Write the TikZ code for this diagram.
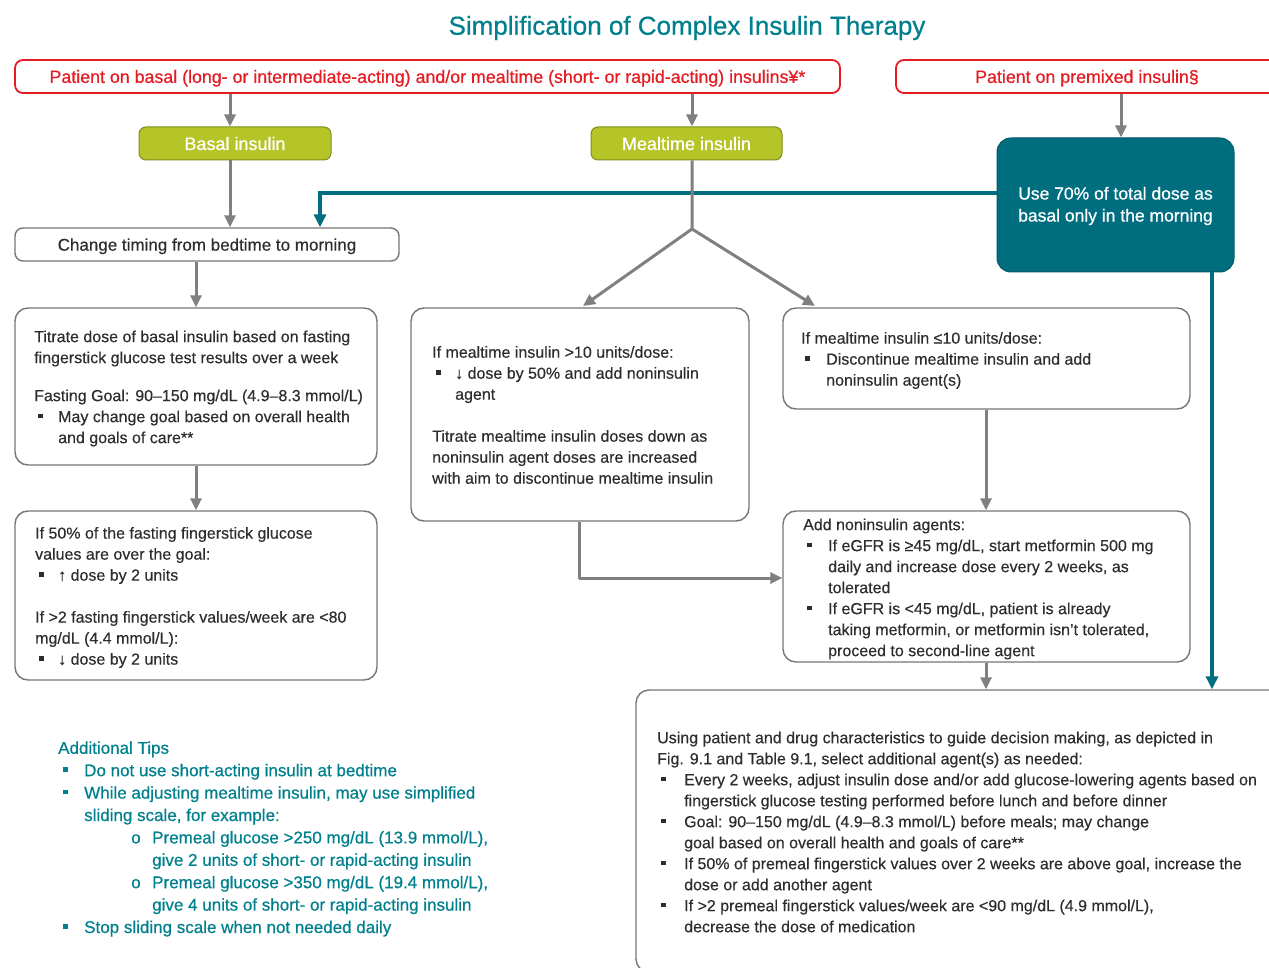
\documentclass[tikz,border=0pt]{standalone}
\usepackage{fontspec}
\setmainfont{Liberation Sans}
\newfontfamily\medf{Liberation Sans}[FakeBold=0.6,Ligatures=TeX]
\newfontfamily\bodyf{Liberation Sans}[FakeBold=0.3,Ligatures=TeX]
\usetikzlibrary{arrows.meta}
\definecolor{tealT}{RGB}{0,128,140}
\definecolor{tealB}{RGB}{0,110,127}
\definecolor{redB}{RGB}{228,28,36}
\definecolor{oliveF}{RGB}{181,196,38}
\definecolor{oliveD}{RGB}{128,140,30}
\definecolor{arrG}{RGB}{128,128,128}
\definecolor{boxG}{RGB}{118,118,118}
\definecolor{txtG}{RGB}{45,45,45}
\newcommand\fsz[2]{\fontsize{#1}{#2}\selectfont}
\newcommand\sqb{\raisebox{0.25em}{\rule{4.5pt}{4.5pt}}}
\newcommand\bul[1]{\makebox[#1][l]{\hspace*{4pt}\sqb}}
\begin{document}
\begin{tikzpicture}[x=1pt,y=-1pt,
 gbox/.style={draw=boxG, line width=1.4pt, rounded corners=13pt, fill=white, inner sep=0pt},
 txt/.style={align=left, text=txtG, inner sep=0pt, font=\bodyf\fsz{16}{21}, anchor=west},
 redbox/.style={draw=redB, line width=1.8pt, rounded corners=8pt, fill=white, text=redB, font=\medf\fsz{17.8}{21}, inner sep=0pt, text height=13.9pt, text depth=1.1pt},
 olivebox/.style={draw=oliveD, line width=1pt, fill=oliveF, rounded corners=7pt, text=white, font=\medf\fsz{18}{21}, inner sep=0pt, minimum height=33pt, text height=14pt, text depth=1.1pt},
 arr/.style={draw=arrG, line width=3pt, line join=round, -{Triangle[length=12pt,width=11pt]}},
 tarr/.style={draw=tealB, line width=3.5pt, -{Triangle[length=13pt,width=12pt]}}
]
\clip (0,0) rectangle (1269,968);

\node[font=\medf\fsz{26}{30}, text=tealT, inner sep=0pt] (title) at (687,28) {Simplification of Complex Insulin Therapy};

\node[redbox, minimum width=825pt, minimum height=33pt] (top1) at (427.5,76.5) {Patient on basal (long- or intermediate-acting) and/or mealtime (short- or rapid-acting) insulins¥*};
\node[redbox, minimum width=382pt, minimum height=33pt] (top2) at (1087,76.5) {Patient on premixed insulin§};

\node[olivebox, minimum width=192pt] (basal) at (235,143.5) {Basal insulin};
\node[olivebox, minimum width=191pt] (meal) at (686.5,143.5) {Mealtime insulin};

\node[gbox, text height=13.3pt, text depth=1pt, rounded corners=8pt, minimum width=384pt, minimum height=33pt, text=txtG, font=\bodyf\fsz{17}{21}] (change) at (207,244.5) {Change timing from bedtime to morning};

\node[draw=tealB!80!black, line width=1pt, fill=tealB, rounded corners=14pt, minimum width=237pt, minimum height=134pt, inner sep=0pt] (teal) at (1115.5,205) {};
\node[align=center, text=white, font=\medf\fsz{17.5}{22}, inner sep=0pt] (tealT) at (1115.5,206) {Use 70\% of total dose as\\basal only in the morning};

\node[gbox, minimum width=362pt, minimum height=157pt] (titrate) at (196,386.5) {};
\node[txt] (titrateT) at (34,388.5) {Titrate dose of basal insulin based on fasting\\fingerstick glucose test results over a week\\[17pt]Fasting Goal: 90--150 mg/dL (4.9--8.3 mmol/L)\\\bul{24pt}May change goal based on overall health\\\hspace*{24pt}and goals of care**};

\node[gbox, minimum width=362pt, minimum height=169pt] (fifty) at (196,595.5) {};
\node[txt] (fiftyT) at (35,597.5) {If 50\% of the fasting fingerstick glucose\\values are over the goal:\\\bul{23pt}↑ dose by 2 units\\[21pt]If >2 fasting fingerstick values/week are <80\\mg/dL (4.4 mmol/L):\\\bul{23pt}↓ dose by 2 units};

\node[gbox, minimum width=338pt, minimum height=213pt] (gt10) at (580,414.5) {};
\node[txt] (gt10T) at (432,415) {If mealtime insulin >10 units/dose:\\\bul{23pt}↓ dose by 50\% and add noninsulin\\\hspace*{23pt}agent\\[21pt]Titrate mealtime insulin doses down as\\noninsulin agent doses are increased\\with aim to discontinue mealtime insulin};

\node[gbox, minimum width=407pt, minimum height=101pt] (le10) at (986.5,358.5) {};
\node[txt] (le10T) at (801,360.5) {If mealtime insulin ≤10 units/dose:\\\bul{25pt}Discontinue mealtime insulin and add\\\hspace*{25pt}noninsulin agent(s)};

\node[gbox, minimum width=407pt, minimum height=151pt] (add) at (986.5,586.5) {};
\node[txt] (addT) at (803,589) {Add noninsulin agents:\\\bul{25pt}If eGFR is ≥45 mg/dL, start metformin 500 mg\\\hspace*{25pt}daily and increase dose every 2 weeks, as\\\hspace*{25pt}tolerated\\\bul{25pt}If eGFR is <45 mg/dL, patient is already\\\hspace*{25pt}taking metformin, or metformin isn't tolerated,\\\hspace*{25pt}proceed to second-line agent};

\node[gbox, minimum width=654pt, minimum height=282pt] (big) at (963,831) {};
\node[txt] (bigT) at (657,832) {Using patient and drug characteristics to guide decision making, as depicted in\\Fig. 9.1 and Table 9.1, select additional agent(s) as needed:\\\bul{27pt}Every 2 weeks, adjust insulin dose and/or add glucose-lowering agents based on\\\hspace*{27pt}fingerstick glucose testing performed before lunch and before dinner\\\bul{27pt}Goal: 90--150 mg/dL (4.9--8.3 mmol/L) before meals; may change\\\hspace*{27pt}goal based on overall health and goals of care**\\\bul{27pt}If 50\% of premeal fingerstick values over 2 weeks are above goal, increase the\\\hspace*{27pt}dose or add another agent\\\bul{27pt}If >2 premeal fingerstick values/week are <90 mg/dL (4.9 mmol/L),\\\hspace*{27pt}decrease the dose of medication};

\node[align=left, text=tealT, inner sep=0pt, font=\medf\fsz{17}{22.4}, anchor=west] (tips) at (58,839) {Additional Tips\\
\hspace*{5pt}\makebox[21pt][l]{\sqb}Do not use short-acting insulin at bedtime\\
\hspace*{5pt}\makebox[21pt][l]{\sqb}While adjusting mealtime insulin, may use simplified\\
\hspace*{26pt}sliding scale, for example:\\
\hspace*{73pt}\makebox[21pt][l]{o}Premeal glucose >250 mg/dL (13.9 mmol/L),\\
\hspace*{94pt}give 2 units of short- or rapid-acting insulin\\
\hspace*{73pt}\makebox[21pt][l]{o}Premeal glucose >350 mg/dL (19.4 mmol/L),\\
\hspace*{94pt}give 4 units of short- or rapid-acting insulin\\
\hspace*{5pt}\makebox[21pt][l]{\sqb}Stop sliding scale when not needed daily};

\coordinate (bx) at (230,0);
\coordinate (mx) at (692,0);
\coordinate (lx) at (196,0);
\coordinate (rx) at (986,0);
\coordinate (px) at (1121,0);
\coordinate (tx) at (1212,0);
\coordinate (gx) at (579,0);
\coordinate (tcx) at (320,0);
\coordinate (ay) at (0,578);
\coordinate (split) at (692,229);
\coordinate (gtin) at (583,306);
\coordinate (lein) at (815,306);

\draw[tarr] ([yshift=12pt]teal.west) -| (change.north -| tcx);
\draw[arr] (top1.south -| bx) -- (basal.north -| bx);
\draw[arr] (basal.south -| bx) -- (change.north -| bx);
\draw[arr] (top1.south -| mx) -- (meal.north -| mx);
\draw[arr] (meal.south -| mx) -- (split) -- (gtin);
\draw[arr] (split) -- (lein);
\draw[arr] (change.south -| lx) -- (titrate.north -| lx);
\draw[arr] (titrate.south -| lx) -- (fifty.north -| lx);
\draw[arr] (gt10.south -| gx) |- (add.west |- ay);
\draw[arr] (le10.south -| rx) -- (add.north -| rx);
\draw[arr] (add.south -| rx) -- (big.north -| rx);
\draw[arr] (top2.south -| px) -- (teal.north -| px);
\draw[tarr] (teal.south -| tx) -- (big.north -| tx);
\end{tikzpicture}
\end{document}
